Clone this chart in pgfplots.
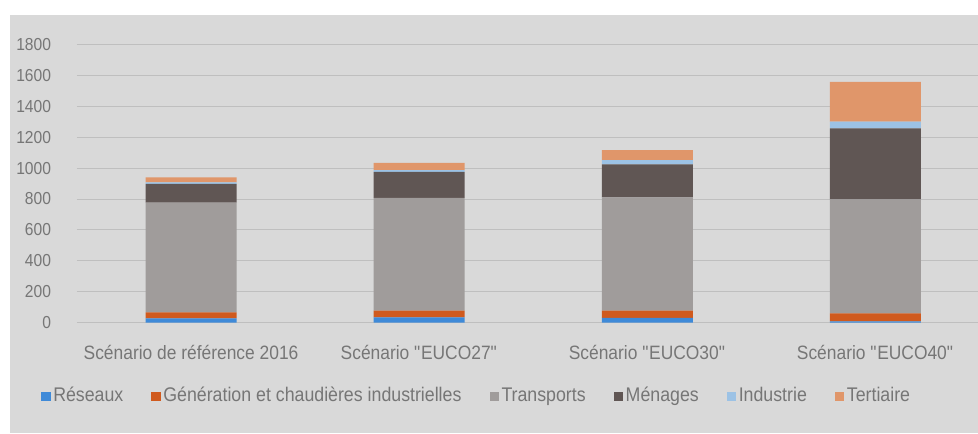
\documentclass[border=0pt]{standalone}
\usepackage{fontspec}
\setmainfont[FakeStretch=0.9]{Liberation Sans}
\usepackage{pgfplots}
\pgfplotsset{compat=1.18}
\definecolor{bg}{HTML}{D9D9D9}
\definecolor{gridc}{HTML}{BFBFBF}
\definecolor{txt}{HTML}{767676}
\definecolor{cReseaux}{HTML}{3F8AD8}
\definecolor{cGen}{HTML}{D05A1E}
\definecolor{cTrans}{HTML}{A09C9B}
\definecolor{cMen}{HTML}{605654}
\definecolor{cInd}{HTML}{9CC2E5}
\definecolor{cTer}{HTML}{E0966A}
\begin{document}
\begin{tikzpicture}
\path[use as bounding box] (0,0) rectangle (733.5pt,324.75pt);
\fill[bg] (7.5pt,0) rectangle (733.5pt,313.5pt);
\begin{axis}[
    at={(57.75pt,82.7pt)}, anchor=south west,
    scale only axis, width=675.75pt, height=208.8pt,
    ybar stacked, bar width=68.25pt,
    xmin=-0.5, xmax=3.45, ymin=0, ymax=1800,
    ytick={0,200,...,1800},
    xtick=data,
    xticklabels={Scénario de référence 2016, Scénario \textquotedbl EUCO27\textquotedbl, Scénario \textquotedbl EUCO30\textquotedbl, Scénario \textquotedbl EUCO40\textquotedbl},
    axis line style={draw=none},
    major tick length=0pt,
    ymajorgrids, grid style={gridc, line width=0.75pt},
    /pgf/number format/assume math mode=true,
    /pgf/number format/1000 sep={},
    yticklabel style={anchor=east, xshift=-16pt, font=\fontsize{13}{15}\selectfont, text=txt},
    xticklabel style={anchor=north, yshift=-13pt, font=\fontsize{14.5}{16}\selectfont, text=txt},
    clip=false,
    legend columns=6,
    legend style={draw=none, fill=none, at={(axis description cs:0,0)}, anchor=west,
        xshift=-30pt, yshift=-55.5pt, font=\fontsize{14.8}{16}\selectfont, text=txt,
        nodes={text height=10.5pt, text depth=3.5pt},
        /tikz/every even column/.append style={column sep=19pt}},
    legend image code/.code={\fill[#1] (0pt,-3.5pt) rectangle (7pt,3.5pt);},
]
\addplot[fill=cReseaux, draw=none] coordinates {(0,28) (1,34) (2,32) (3,8)};
\addplot[fill=cGen, draw=none] coordinates {(0,39) (1,44) (2,46) (3,52)};
\addplot[fill=cTrans, draw=none] coordinates {(0,709) (1,730) (2,732) (3,737)};
\addplot[fill=cMen, draw=none] coordinates {(0,121) (1,168) (2,214) (3,459)};
\addplot[fill=cInd, draw=none] coordinates {(0,10) (1,11) (2,28) (3,44)};
\addplot[fill=cTer, draw=none] coordinates {(0,33) (1,47) (2,64) (3,258)};
\legend{Réseaux, Génération et chaudières industrielles, Transports, Ménages, Industrie, Tertiaire}
\end{axis}
\end{tikzpicture}
\end{document}
